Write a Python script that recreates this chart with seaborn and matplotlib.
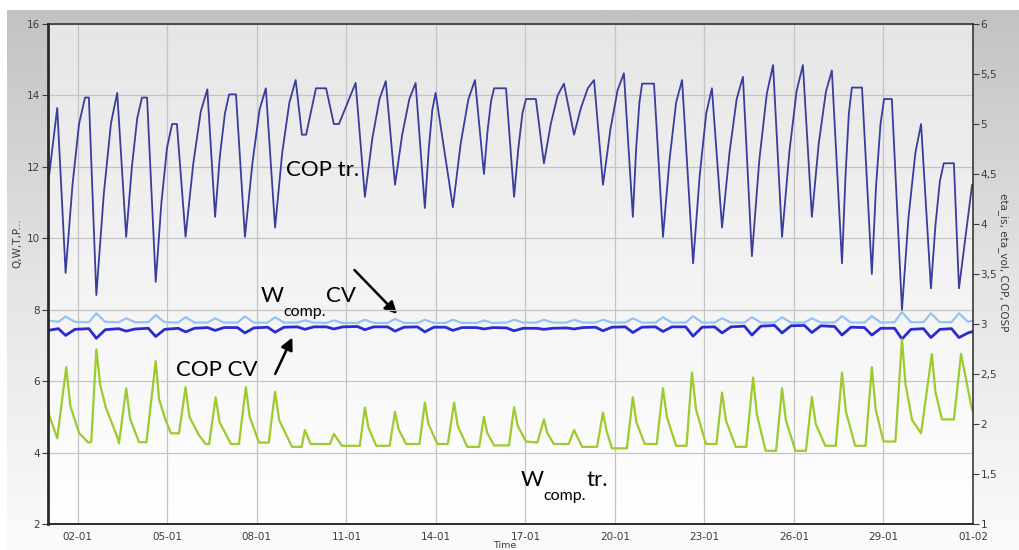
import numpy as np
import pandas as pd
import matplotlib
matplotlib.use("Agg")
import matplotlib.pyplot as plt
import matplotlib.patches as mpatches
import seaborn as sns
import matplotlib.dates as mdates
from matplotlib.colors import LinearSegmentedColormap
from matplotlib.ticker import FixedLocator, AutoMinorLocator, FuncFormatter

# ---------------- data: (days since 01-01, value on the left-axis scale) ----------------
cop_tr_pts = [
    (0.0, 11.5), (0.31, 13.65), (0.59, 9.03),
    (0.82, 11.49), (1.04, 13.2), (1.24, 13.94), (1.37, 13.94), (1.62, 8.41),
    (1.87, 11.24), (2.11, 13.22), (2.32, 14.07), (2.62, 10.04),
    (2.81, 11.99), (2.99, 13.36), (3.15, 13.94), (3.32, 13.94), (3.61, 8.78),
    (3.80, 10.99), (3.99, 12.54), (4.16, 13.2), (4.32, 13.2), (4.61, 10.04),
    (4.87, 12.1), (5.12, 13.55), (5.34, 14.17), (5.60, 10.6),
    (5.76, 12.3), (5.93, 13.5), (6.07, 14.03), (6.30, 14.03), (6.60, 10.04),
    (6.85, 12.1), (7.09, 13.6), (7.30, 14.2), (7.61, 10.3),
    (7.85, 12.4), (8.09, 13.8), (8.30, 14.43), (8.51, 12.9), (8.65, 12.9),
    (8.98, 14.2), (9.32, 14.2), (9.58, 13.2), (9.75, 13.2), (10.31, 14.35), (10.62, 11.16),
    (10.87, 12.8), (11.11, 13.9), (11.32, 14.4), (11.63, 11.5),
    (11.87, 12.9), (12.11, 13.9), (12.32, 14.35), (12.63, 10.85),
    (12.76, 12.5), (12.88, 13.6), (12.99, 14.07), (13.57, 10.87),
    (13.83, 12.65), (14.09, 13.9), (14.31, 14.43), (14.61, 11.8),
    (14.73, 13.0), (14.85, 13.85), (14.95, 14.2), (15.35, 14.2), (15.62, 11.16),
    (15.76, 12.5), (15.90, 13.5), (16.02, 13.9), (16.35, 13.9), (16.62, 12.1),
    (16.85, 13.2), (17.08, 14.0), (17.29, 14.33), (17.63, 12.9),
    (17.86, 13.65), (18.09, 14.2), (18.30, 14.43), (18.60, 11.5),
    (18.85, 13.06), (19.09, 14.15), (19.30, 14.62), (19.60, 10.6),
    (19.71, 12.5), (19.82, 13.8), (19.91, 14.33), (20.31, 14.33), (20.61, 10.04),
    (20.83, 12.2), (21.05, 13.8), (21.25, 14.43), (21.62, 9.3),
    (21.84, 11.75), (22.06, 13.5), (22.25, 14.2), (22.59, 10.3),
    (22.84, 12.4), (23.08, 13.9), (23.29, 14.52), (23.59, 9.5),
    (23.84, 12.2), (24.09, 14.05), (24.30, 14.85), (24.60, 10.04),
    (24.85, 12.45), (25.09, 14.13), (25.30, 14.85), (25.60, 10.6),
    (25.83, 12.65), (26.07, 14.1), (26.27, 14.7), (26.61, 9.3),
    (26.73, 11.8), (26.84, 13.5), (26.94, 14.22), (27.28, 14.22), (27.61, 9.0),
    (27.75, 11.45), (27.90, 13.2), (28.02, 13.9), (28.28, 13.9), (28.62, 8.0),
    (28.84, 10.6), (29.07, 12.4), (29.26, 13.2), (29.59, 8.6),
    (29.74, 10.35), (29.89, 11.6), (30.02, 12.1), (30.36, 12.1), (30.53, 8.6), (30.97, 11.5),
]

w_tr_pts = [
    (0.0, 5.14), (0.31, 4.40), (0.61, 6.39), (0.75, 5.3), (1.04, 4.55), (1.35, 4.28), (1.45, 4.30),
    (1.62, 6.89), (1.75, 5.9), (1.93, 5.28), (2.32, 4.44), (2.38, 4.26), (2.62, 5.80), (2.75, 4.95),
    (3.05, 4.29), (3.30, 4.29), (3.61, 6.56), (3.72, 5.5), (3.94, 4.91), (4.12, 4.54), (4.39, 4.54),
    (4.61, 5.83), (4.74, 5.0), (5.05, 4.50), (5.28, 4.24), (5.40, 4.24), (5.62, 5.55), (5.75, 4.85),
    (6.13, 4.24), (6.40, 4.24), (6.63, 5.83), (6.76, 5.0), (7.07, 4.28), (7.40, 4.28), (7.61, 5.70),
    (7.75, 4.9), (8.18, 4.16), (8.50, 4.16), (8.61, 4.63), (8.80, 4.24), (9.45, 4.24), (9.58, 4.52),
    (9.85, 4.19), (10.45, 4.19), (10.62, 5.26), (10.74, 4.7), (11.00, 4.19), (11.45, 4.19),
    (11.63, 5.14), (11.75, 4.65), (12.00, 4.24), (12.45, 4.24), (12.63, 5.40), (12.75, 4.8),
    (13.05, 4.24), (13.40, 4.24), (13.61, 5.40), (13.73, 4.75), (14.05, 4.16), (14.45, 4.16),
    (14.61, 5.00), (14.72, 4.55), (14.95, 4.20), (15.45, 4.20), (15.62, 5.27), (15.74, 4.75),
    (16.02, 4.31), (16.40, 4.28), (16.62, 4.93), (16.73, 4.55), (16.95, 4.24), (17.45, 4.24),
    (17.63, 4.63), (17.90, 4.16), (18.40, 4.16), (18.60, 5.12), (18.72, 4.6), (18.90, 4.12),
    (19.40, 4.12), (19.60, 5.55), (19.72, 4.85), (20.00, 4.24), (20.40, 4.24), (20.61, 5.80),
    (20.74, 5.0), (21.05, 4.19), (21.40, 4.19), (21.58, 6.24), (21.72, 5.2), (22.05, 4.24),
    (22.40, 4.24), (22.59, 5.68), (22.72, 4.9), (23.05, 4.16), (23.40, 4.16), (23.63, 6.10),
    (23.76, 5.05), (24.05, 4.05), (24.40, 4.05), (24.60, 5.80), (24.73, 4.9), (25.05, 4.05),
    (25.40, 4.05), (25.60, 5.56), (25.73, 4.8), (26.05, 4.19), (26.40, 4.19), (26.61, 6.24),
    (26.74, 5.15), (27.05, 4.19), (27.40, 4.19), (27.61, 6.39), (27.74, 5.2), (28.00, 4.31),
    (28.40, 4.31), (28.62, 7.17), (28.74, 5.9), (28.96, 4.91), (29.26, 4.54), (29.62, 6.76),
    (29.74, 5.7), (29.96, 4.93), (30.36, 4.93), (30.60, 6.76), (30.97, 5.19),
]

cv_day = [0.0, 0.35, 0.59, 0.90, 1.37, 1.62, 1.92, 2.37, 2.62, 2.92, 3.36, 3.61, 3.91,
          4.36, 4.61, 4.91, 5.35, 5.60, 5.90, 6.35, 6.60, 6.90, 7.36, 7.61, 7.91,
          8.36, 8.61, 8.91, 9.33, 9.58, 9.88, 10.37, 10.62, 10.92, 11.38, 11.63, 11.93,
          12.38, 12.63, 12.93, 13.32, 13.57, 13.87, 14.36, 14.61, 14.91, 15.37, 15.62, 15.92,
          16.37, 16.62, 16.92, 17.38, 17.63, 17.93, 18.35, 18.60, 18.90, 19.35, 19.60, 19.90,
          20.36, 20.61, 20.91, 21.37, 21.62, 21.92, 22.34, 22.59, 22.89, 23.34, 23.59, 23.89,
          24.35, 24.60, 24.90, 25.35, 25.60, 25.90, 26.36, 26.61, 26.91, 27.36, 27.61, 27.91,
          28.37, 28.62, 28.92, 29.34, 29.59, 29.89, 30.28, 30.53, 30.83, 31.0]
cop_cv = [7.42, 7.47, 7.28, 7.45, 7.47, 7.20, 7.44, 7.47, 7.40, 7.46, 7.48, 7.25, 7.45,
          7.48, 7.38, 7.48, 7.50, 7.42, 7.50, 7.50, 7.35, 7.49, 7.51, 7.37, 7.51,
          7.52, 7.45, 7.52, 7.52, 7.46, 7.52, 7.53, 7.44, 7.52, 7.52, 7.40, 7.51,
          7.52, 7.38, 7.51, 7.51, 7.42, 7.50, 7.50, 7.46, 7.50, 7.49, 7.41, 7.48,
          7.48, 7.45, 7.48, 7.49, 7.46, 7.50, 7.51, 7.41, 7.51, 7.52, 7.36, 7.51,
          7.52, 7.39, 7.52, 7.52, 7.26, 7.51, 7.52, 7.35, 7.52, 7.54, 7.29, 7.54,
          7.56, 7.35, 7.55, 7.56, 7.36, 7.55, 7.53, 7.29, 7.51, 7.50, 7.29, 7.48,
          7.48, 7.18, 7.45, 7.47, 7.22, 7.45, 7.47, 7.22, 7.35, 7.39]
w_cv = [7.70, 7.66, 7.81, 7.66, 7.65, 7.90, 7.66, 7.65, 7.76, 7.65, 7.65, 7.85, 7.65,
        7.64, 7.79, 7.64, 7.64, 7.76, 7.64, 7.64, 7.81, 7.64, 7.64, 7.79, 7.64,
        7.64, 7.70, 7.64, 7.63, 7.70, 7.63, 7.63, 7.72, 7.63, 7.63, 7.74, 7.63,
        7.63, 7.72, 7.63, 7.63, 7.72, 7.63, 7.63, 7.70, 7.63, 7.64, 7.72, 7.64,
        7.64, 7.72, 7.64, 7.64, 7.72, 7.64, 7.64, 7.72, 7.64, 7.64, 7.76, 7.64,
        7.64, 7.79, 7.64, 7.64, 7.82, 7.64, 7.64, 7.76, 7.64, 7.64, 7.79, 7.64,
        7.64, 7.79, 7.64, 7.64, 7.76, 7.64, 7.64, 7.82, 7.64, 7.64, 7.82, 7.64,
        7.65, 7.94, 7.65, 7.65, 7.90, 7.65, 7.65, 7.90, 7.66, 7.70]

x_tick_dates = ["2013-01-02", "2013-01-05", "2013-01-08", "2013-01-11", "2013-01-14", "2013-01-17",
                "2013-01-20", "2013-01-23", "2013-01-26", "2013-01-29", "2013-02-01"]
left_ticks = [2, 4, 6, 8, 10, 12, 14, 16]
right_ticks = [1, 1.5, 2, 2.5, 3, 3.5, 4, 4.5, 5, 5.5, 6]

start = pd.Timestamp("2013-01-01")
end = pd.Timestamp("2013-02-01")


def frame(days, vals):
    return pd.DataFrame({"t": start + pd.to_timedelta(list(days), unit="D"), "v": list(vals)})


df_cop_tr = frame(*zip(*cop_tr_pts))
df_w_tr = frame(*zip(*w_tr_pts))
df_cop_cv = frame(cv_day, cop_cv)
df_w_cv = frame(cv_day, w_cv)

# ---------------- figure ----------------
sns.set_theme(style="white")
plt.rcParams["font.family"] = ["DejaVu Sans"]

W, H = 1020, 550
fig = plt.figure(figsize=(W / 100, H / 100), dpi=100)
fig.patch.set_facecolor("white")

grad = np.linspace(0, 1, 256).reshape(-1, 1)
bg = fig.add_axes([7 / W, 0, 1 - 7 / W, 1 - 10 / H], zorder=-10)
bg.imshow(grad, aspect="auto", extent=[0, 1, 0, 1],
          cmap=LinearSegmentedColormap.from_list("g1", ["#c2c2c2", "#e4e4e4", "#fbfbfb"]))
bg.axis("off")

pos = [48 / W, 26 / H, 925 / W, 500 / H]
pbg = fig.add_axes(pos, zorder=-5)
pbg.imshow(grad, aspect="auto", extent=[0, 1, 0, 1],
           cmap=LinearSegmentedColormap.from_list("g2", ["#e6e6e6", "#f3f3f3", "#ffffff"]))
pbg.axis("off")

ax = fig.add_axes(pos, zorder=1)
ax.patch.set_visible(False)

sns.lineplot(data=df_cop_tr, x="t", y="v", ax=ax, color="#3a3c9e", linewidth=1.3, legend=False)
sns.lineplot(data=df_w_cv, x="t", y="v", ax=ax, color="#94c4f2", linewidth=1.6, legend=False)
sns.lineplot(data=df_cop_cv, x="t", y="v", ax=ax, color="#2b2bd4", linewidth=2.0, legend=False)
sns.lineplot(data=df_w_tr, x="t", y="v", ax=ax, color="#9ccb2e", linewidth=1.6, legend=False)

ax.set_xlim(start, end)
ax.set_ylim(2, 16)
ax.set_xlabel("")
ax.set_ylabel("")
ax.yaxis.set_major_locator(FixedLocator(left_ticks))
ax.xaxis.set_major_locator(FixedLocator(mdates.date2num(pd.to_datetime(x_tick_dates))))
ax.xaxis.set_major_formatter(mdates.DateFormatter("%d-%m"))
ax.xaxis.set_minor_locator(AutoMinorLocator(4))
ax.grid(True, which="major", color="#c4c4c4", linewidth=0.9)
ax.set_axisbelow(True)

tick_col = "#3c3c3c"
ax.tick_params(axis="both", which="major", direction="out", length=4, width=0.8,
               labelsize=7.5, colors=tick_col, pad=1.5)
ax.tick_params(axis="x", which="minor", direction="out", length=2.5, width=0.7, colors=tick_col)

for name, sp in ax.spines.items():
    sp.set_visible(True)
    sp.set_color("#2a2a2a")
ax.spines["left"].set_linewidth(2.0)
ax.spines["bottom"].set_linewidth(1.4)
ax.spines["top"].set_linewidth(1.1)
ax.spines["right"].set_linewidth(1.1)

ax2 = ax.twinx()
ax2.set_ylim(1, 6)
ax2.yaxis.set_major_locator(FixedLocator(right_ticks))
ax2.yaxis.set_major_formatter(FuncFormatter(lambda v, p: f"{v:g}".replace(".", ",")))
ax2.tick_params(axis="y", direction="out", length=4, width=0.8, labelsize=7.5,
                colors=tick_col, pad=1.5)
for sp in ax2.spines.values():
    sp.set_visible(False)

# axis titles
fig.text(17 / W, 1 - 243 / H, "Q,W,T,P...", rotation=90, ha="center", va="center",
         fontsize=7.5, color=tick_col)
fig.text(1003 / W, 1 - 262 / H, "eta_is, eta_vol, COP, COSP", rotation=270, ha="center",
         va="center", fontsize=7.5, color=tick_col)
fig.text(505 / W, 1 - 549.5 / H, "Time", ha="center", va="bottom", fontsize=6.8, color=tick_col)


# annotations
def ftxt(px, py, s, size):
    fig.text(px / W, 1 - py / H, s, ha="left", va="baseline", fontsize=size,
             family="Lato", color="black")


def farrow(x0, y0, x1, y1):
    fig.add_artist(mpatches.FancyArrowPatch(
        (x0 / W, 1 - y0 / H), (x1 / W, 1 - y1 / H), transform=fig.transFigure,
        arrowstyle="-|>", mutation_scale=18, linewidth=1.8, color="black"))


ftxt(286, 176, "COP tr.", 16)
ftxt(261, 302.5, "W", 16)
ftxt(283.5, 316, "comp.", 11.5)
ftxt(326.5, 302.5, "CV", 16)
farrow(352.5, 268, 399, 316)
ftxt(176, 376.5, "COP CV", 16)
farrow(274, 376.5, 293.5, 335)
ftxt(521, 486, "W", 16)
ftxt(543, 500, "comp.", 11.5)
ftxt(586.5, 486, "tr.", 16)

fig.savefig("out.png", dpi=100)
